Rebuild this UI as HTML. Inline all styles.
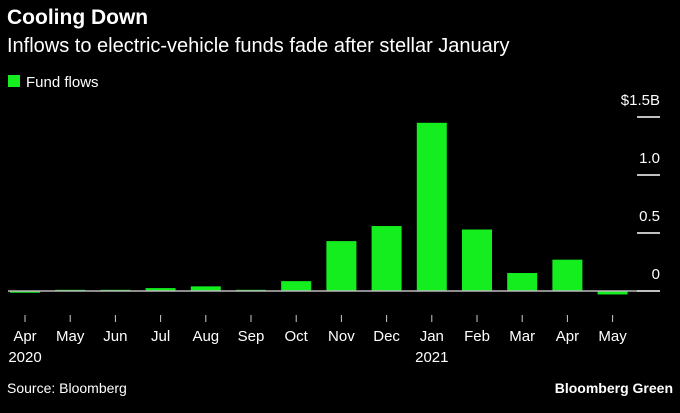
<!DOCTYPE html>
<html><head><meta charset="utf-8"><style>
body{margin:0;background:#000;width:680px;height:408px;overflow:hidden;font-family:"Liberation Sans",sans-serif;color:#fff}
</style></head><body>
<svg width="680" height="408" font-family="Liberation Sans, sans-serif">
<text x="7" y="24" font-size="21" font-weight="bold" fill="#fff">Cooling Down</text>
<text x="7" y="52" font-size="20" fill="#fff">Inflows to electric-vehicle funds fade after stellar January</text>
<rect x="8" y="75" width="12" height="12" fill="#14ee1f"/>
<text x="26" y="87" font-size="15" fill="#fff">Fund flows</text>
<g id="g"></g>
<text x="7" y="393" font-size="14" fill="#fff">Source: Bloomberg</text>
<text x="673" y="393" font-size="14" font-weight="bold" fill="#fff" text-anchor="end">Bloomberg Green</text>
</svg>
<script>
const months=["Apr","May","Jun","Jul","Aug","Sep","Oct","Nov","Dec","Jan","Feb","Mar","Apr","May"];
const years=["2020","","","","","","","","","2021","","","",""];
const values=[-0.015,0.01,0.01,0.025,0.04,0.01,0.085,0.43,0.56,1.45,0.53,0.155,0.27,-0.03];
const ticks=[0,0.5,1.0,1.5];
const tickLabels=["0","0.5","1.0","$1.5B"];
const NS="http://www.w3.org/2000/svg",g=document.getElementById('g');
const y=v=>291-v*116;
const x=i=>25+i*45.2;
function mk(t,a){const e=document.createElementNS(NS,t);for(const k in a)e.setAttribute(k,a[k]);g.appendChild(e);return e;}
ticks.forEach((t,i)=>{
 const l=mk('line',{x1:637,x2:660,y1:y(t),y2:y(t),stroke:'#fff','stroke-width':1.5});
 
 
 const tx=mk('text',{x:660,y:y(t)-12,'font-size':15,fill:'#fff','text-anchor':'end'});
 tx.textContent=tickLabels[i];
 
 
});
values.forEach((v,i)=>{
 const r=mk('rect',{x:x(i)-15,width:30,y:Math.min(y(v),y(0)),height:Math.max(1.5,Math.abs(y(v)-y(0))),fill:'#14ee1f'});
 
 
 const tk=mk('line',{x1:x(i),x2:x(i),y1:315,y2:322,stroke:'#ccc','stroke-width':1});
 
 
 const t=mk('text',{x:x(i),y:341,'font-size':15,fill:'#fff','text-anchor':'middle'});
 t.textContent=months[i];
 
 
 if(years[i]){const yt=mk('text',{x:x(i),y:362,'font-size':15,fill:'#fff','text-anchor':'middle'});yt.textContent=years[i];
 
 }
});
const base=mk('line',{x1:8,x2:637,y1:y(0),y2:y(0),stroke:'#bbb','stroke-width':1.5});


</script>
</body></html>
